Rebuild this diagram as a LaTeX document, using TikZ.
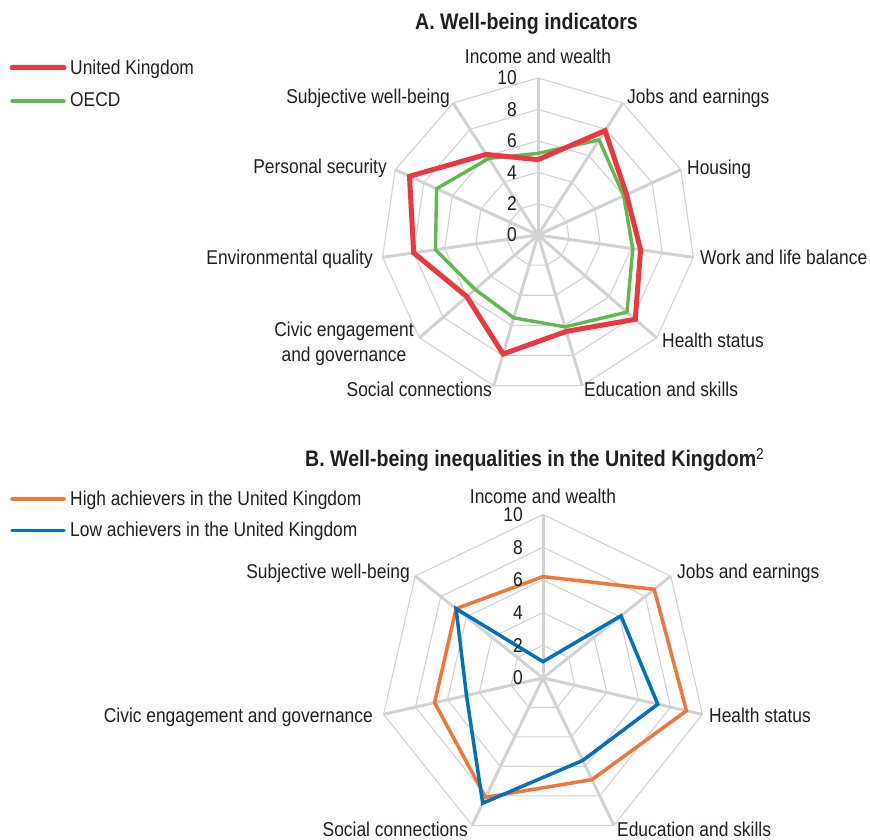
\documentclass[tikz,border=0pt]{standalone}
\usepackage{fontspec}
\setmainfont[FakeStretch=0.87]{Liberation Sans}
\usetikzlibrary{calc}
\definecolor{ukred}{RGB}{237,55,64}
\definecolor{oecdgreen}{RGB}{94,186,79}
\definecolor{hiorange}{RGB}{242,118,58}
\definecolor{loblue}{RGB}{0,113,188}
\definecolor{gridgray}{RGB}{210,210,210}
\definecolor{txt}{RGB}{35,31,32}
\begin{document}
\begin{tikzpicture}[x=1pt,y=1pt,
  lab/.style={font=\fontsize{20}{24}\selectfont, text=txt, inner sep=0pt},
  num/.style={font=\fontsize{20}{22}\selectfont, text=txt, inner sep=0pt, anchor=east},
  ttl/.style={font=\fontsize{22.5}{26}\selectfont\bfseries, text=txt, inner sep=0pt, anchor=base west},
  spoke/.style={draw=gridgray, line width=3pt},
  ring/.style={draw=gridgray, line width=1.1pt},
  ukline/.style={draw=ukred, line width=5pt},
  oecdline/.style={draw=oecdgreen, line width=3.4pt},
  hiline/.style={draw=hiorange, line width=3.5pt},
  loline/.style={draw=loblue, line width=3.5pt},
  legline/.style={line cap=round}]
\useasboundingbox (0,0) rectangle (870,839);

% ---------------- Panel A ----------------
\coordinate (cA) at (538,604);
\def\uA{15.7}
\foreach \k in {2,4,...,10}{
  \draw[ring] ($(cA)+(90:\k*\uA)$) \foreach \i in {1,...,10}{ -- ($(cA)+({90-\i*360/11}:\k*\uA)$)} -- cycle;
}
\foreach \i in {0,...,10}{
  \draw[spoke] (cA) -- ($(cA)+({90-\i*360/11}:10*\uA)$) coordinate (ea\i);
}
\foreach \v [count=\i from 0] in {4.8,7.9,6.2,6.6,8.2,6.4,7.9,6.0,8.0,9.0,6.1}{
  \coordinate (u\i) at ($(cA)+({90-\i*360/11}:\v*\uA)$);
}
\foreach \v [count=\i from 0] in {5.2,7.2,6.0,6.1,7.5,6.1,5.5,5.3,6.6,7.1,5.8}{
  \coordinate (o\i) at ($(cA)+({90-\i*360/11}:\v*\uA)$);
}
\draw[oecdline] (o0) \foreach \i in {1,...,10}{ -- (o\i)} -- cycle;
\draw[ukline] (u0) \foreach \i in {1,...,10}{ -- (u\i)} -- cycle;
\foreach \k in {0,2,4,6,8,10}{
  \node[num] (na\k) at ($(cA)+(-21,\k*\uA)$) {\k};
}
\node[lab, anchor=base] (lA0) at (538,775) {Income and wealth};
\node[lab, anchor=base west] (lA1) at (627,735) {Jobs and earnings};
\node[lab, anchor=base west] (lA2) at (687,664) {Housing};
\node[lab, anchor=base west] (lA3) at (700,574) {Work and life balance};
\node[lab, anchor=base west] (lA4) at (662,491) {Health status};
\node[lab, anchor=base west] (lA5) at (584,442) {Education and skills};
\node[lab, anchor=base east] (lA6) at (492,442) {Social connections};
\node[lab, anchor=base] (lA7a) at (344,502) {Civic engagement};
\node[lab, anchor=base] (lA7b) at (344,477.5) {and governance};
\node[lab, anchor=base east] (lA8) at (373,574) {Environmental quality};
\node[lab, anchor=base east] (lA9) at (387,665) {Personal security};
\node[lab, anchor=base east] (lA10) at (450,735) {Subjective well-being};

\node[ttl] (tA) at (415,809) {A. Well-being indicators};

\coordinate (lgA1s) at (12,771); \coordinate (lgA1e) at (64,771);
\draw[ukline, legline] (lgA1s) -- (lgA1e);
\node[lab, anchor=base west] (lgA1) at (70,764.7) {United Kingdom};
\coordinate (lgA2s) at (12,738); \coordinate (lgA2e) at (64,738);
\draw[oecdline, legline] (lgA2s) -- (lgA2e);
\node[lab, anchor=base west] (lgA2) at (70,732.3) {OECD};

% ---------------- Panel B ----------------
\coordinate (cB) at (543,161);
\def\uB{16.35}
\foreach \k in {2,4,...,10}{
  \draw[ring] ($(cB)+(90:\k*\uB)$) \foreach \i in {1,...,6}{ -- ($(cB)+({90-\i*360/7}:\k*\uB)$)} -- cycle;
}
\foreach \i in {0,...,6}{
  \draw[spoke] (cB) -- ($(cB)+({90-\i*360/7}:10*\uB)$) coordinate (eb\i);
}
\foreach \v [count=\i from 0] in {6.2,8.7,9.0,6.9,8.1,6.8,6.8}{
  \coordinate (h\i) at ($(cB)+({90-\i*360/7}:\v*\uB)$);
}
\foreach \v [count=\i from 0] in {1.0,6.1,7.2,5.6,8.5,4.8,6.8}{
  \coordinate (w\i) at ($(cB)+({90-\i*360/7}:\v*\uB)$);
}
\draw[hiline] (h0) \foreach \i in {1,...,6}{ -- (h\i)} -- cycle;
\draw[loline] (w0) \foreach \i in {1,...,6}{ -- (w\i)} -- cycle;
\foreach \k in {0,2,4,6,8,10}{
  \node[num] (nb\k) at ($(cB)+(-20,\k*\uB)$) {\k};
}
\node[lab, anchor=base] (lB0) at (543,336) {Income and wealth};
\node[lab, anchor=base west] (lB1) at (677,261) {Jobs and earnings};
\node[lab, anchor=base west] (lB2) at (709,117) {Health status};
\node[lab, anchor=base west] (lB3) at (617,3) {Education and skills};
\node[lab, anchor=base east] (lB4) at (468,3) {Social connections};
\node[lab, anchor=base east] (lB5) at (373,117) {Civic engagement and governance};
\node[lab, anchor=base east] (lB6) at (410,261) {Subjective well-being};

\node[ttl] (tB) at (305,372) {B. Well-being inequalities in the United Kingdom\textsuperscript{\mdseries 2}};

\coordinate (lgB1s) at (12,340); \coordinate (lgB1e) at (64,340);
\draw[hiline, legline] (lgB1s) -- (lgB1e);
\node[lab, anchor=base west] (lgB1) at (70,334) {High achievers in the United Kingdom};
\coordinate (lgB2s) at (12,308.3); \coordinate (lgB2e) at (64,308.3);
\draw[loline, legline] (lgB2s) -- (lgB2e);
\node[lab, anchor=base west] (lgB2) at (70,302.3) {Low achievers in the United Kingdom};
\end{tikzpicture}
\end{document}
